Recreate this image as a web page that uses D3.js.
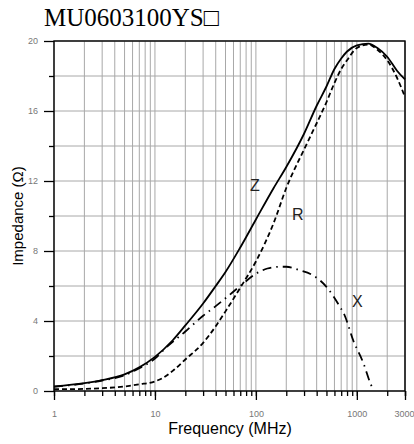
<!DOCTYPE html>
<html>
<head>
<meta charset="utf-8">
<script src="https://cdn.jsdelivr.net/npm/d3@7"></script>
<style>
  body { margin: 0; background: #fff; }
  svg { display: block; }
  .tick text { font-family: "Liberation Sans", Arial, sans-serif; font-size: 9px; fill: #777; }
</style>
</head>
<body>
<div id="chart-area"></div>
<script>

// frequencies (MHz) and impedance readings (ohm)
const freqZ = [1, 2, 3, 5, 7, 10, 15, 20, 30, 40, 50, 70, 100, 150, 200, 300, 400, 500, 600, 700, 800, 1000, 1300, 1600, 2000, 2500, 3000];
const valZ  = [0.26, 0.45, 0.62, 0.95, 1.35, 1.95, 2.9, 3.75, 5.0, 6.0, 6.8, 8.2, 9.8, 11.6, 12.8, 14.7, 16.3, 17.4, 18.4, 19.0, 19.4, 19.75, 19.85, 19.6, 19.1, 18.3, 17.8];

const freqR = [1, 2, 3, 5, 7, 10, 12, 15, 20, 30, 40, 50, 70, 100, 150, 200, 300, 400, 500, 600, 700, 800, 1000, 1300, 1600, 2000, 2500, 3000];
const valR  = [0.1, 0.12, 0.16, 0.26, 0.38, 0.55, 0.75, 1.15, 1.8, 2.75, 3.7, 4.55, 5.9, 7.4, 9.6, 11.6, 13.8, 15.3, 16.5, 17.6, 18.4, 18.9, 19.6, 19.8, 19.5, 18.9, 17.9, 16.8];

const freqX = [1, 2, 3, 5, 7, 10, 13, 20, 30, 40, 50, 70, 100, 130, 170, 200, 270, 370, 500, 650, 760, 920, 1160, 1360, 1420];
const valX  = [0.24, 0.43, 0.6, 0.9, 1.3, 1.85, 2.5, 3.4, 4.3, 4.85, 5.3, 6.0, 6.7, 7.0, 7.1, 7.1, 6.9, 6.6, 5.95, 5.0, 4.3, 2.9, 1.6, 0.45, 0.2];

const xLabels = [1, 10, 100, 1000, 3000];
const yLabels = [0, 4, 8, 12, 16, 20];
const yMinor = [2, 6, 10, 14, 18];

let margin = { left: 54, right: 9, top: 41, bottom: 53 };
let width = 414 - margin.left - margin.right;
let height = 444 - margin.top - margin.bottom;

const svg = d3.select('#chart-area').append('svg')
	.attr('width', 414)
	.attr('height', 444);

// title
svg.append('text')
	.attr('x', 44)
	.attr('y', 26)
	.attr('font-family', '"Liberation Serif", "Times New Roman", serif')
	.attr('font-size', '25px')
	.attr('fill', '#000')
	.text('MU0603100YS\u25A1');

let g = svg.append('g')
	.attr('transform', 'translate(' + margin.left + ', ' + margin.top + ')');

let x = d3.scaleLog()
	.domain([1, 3000])
	.range([0, width]);

let y = d3.scaleLinear()
	.domain([0, 20])
	.range([height, 0]);

// every 1..9 per decade for grid and minor ticks
let xMinor = [];
[1, 10, 100, 1000].forEach(dec => {
	for (let k = 1; k <= 9; k++) {
		if (dec * k <= 3000) xMinor.push(dec * k);
	}
});
xMinor.push(3000);

// grid
g.append('g')
	.selectAll('line.vgrid')
	.data(xMinor)
	.enter().append('line')
		.attr('x1', d => x(d)).attr('x2', d => x(d))
		.attr('y1', 0).attr('y2', height)
		.attr('stroke', '#a8a8a8')
		.attr('stroke-width', 1);

g.append('g')
	.selectAll('line.hgrid')
	.data(yLabels.concat(yMinor))
	.enter().append('line')
		.attr('x1', 0).attr('x2', width)
		.attr('y1', d => y(d)).attr('y2', d => y(d))
		.attr('stroke', '#a8a8a8')
		.attr('stroke-width', 1);

// axes
let yAxisCall = d3.axisLeft(y)
	.tickValues(yLabels)
	.tickSize(10)
	.tickPadding(6)
	.tickFormat(d => d);
g.append('g')
	.attr('class', 'y-axis')
	.call(yAxisCall)
	.call(a => a.select('.domain').remove());

g.append('g')
	.call(d3.axisLeft(y).tickValues(yMinor).tickSize(5).tickFormat(''))
	.call(a => a.select('.domain').remove());

let xAxisCall = d3.axisBottom(x)
	.tickValues(xLabels)
	.tickSize(9)
	.tickPadding(11)
	.tickFormat(d => d);
g.append('g')
	.attr('class', 'x-axis')
	.attr('transform', 'translate(0, ' + height + ')')
	.call(xAxisCall)
	.call(a => a.select('.domain').remove())
	// last label sits against the right edge
	.selectAll('.tick text')
		.filter(d => d === 3000)
		.attr('text-anchor', 'end')
		.attr('dx', 9);

g.append('g')
	.attr('transform', 'translate(0, ' + height + ')')
	.call(d3.axisBottom(x).tickValues(xMinor).tickSize(5).tickFormat(''))
	.call(a => a.select('.domain').remove());

g.selectAll('.tick line')
	.attr('stroke', '#000')
	.attr('stroke-width', 1.3);

// frame
g.append('rect')
	.attr('x', 0).attr('y', 0)
	.attr('width', width).attr('height', height)
	.attr('fill', 'none')
	.attr('stroke', '#000')
	.attr('stroke-width', 1.4);

// curves
let line = d3.line()
	.x(d => x(d[0]))
	.y(d => y(d[1]))
	.curve(d3.curveMonotoneX);

g.append('path')
	.datum(freqX.map((f, i) => [f, valX[i]]))
	.attr('d', line)
	.attr('fill', 'none')
	.attr('stroke', '#000')
	.attr('stroke-width', 1.8)
	.attr('stroke-dasharray', '9,5,1.5,5');

g.append('path')
	.datum(freqR.map((f, i) => [f, valR[i]]))
	.attr('d', line)
	.attr('fill', 'none')
	.attr('stroke', '#000')
	.attr('stroke-width', 1.8)
	.attr('stroke-dasharray', '5,3');

g.append('path')
	.datum(freqZ.map((f, i) => [f, valZ[i]]))
	.attr('d', line)
	.attr('fill', 'none')
	.attr('stroke', '#000')
	.attr('stroke-width', 1.8);

// curve labels
const curveLabels = [
	{ t: 'Z', f: 98, v: 11.45 },
	{ t: 'R', f: 260, v: 9.8 },
	{ t: 'X', f: 1010, v: 4.8 }
];
g.selectAll('text.curve-label')
	.data(curveLabels)
	.enter().append('text')
		.attr('class', 'curve-label')
		.attr('x', d => x(d.f))
		.attr('y', d => y(d.v))
		.attr('text-anchor', 'middle')
		.attr('font-family', '"Liberation Sans", Arial, sans-serif')
		.attr('font-size', '16px')
		.attr('fill', '#222')
		.text(d => d.t);

// x label
svg.append('text')
	.attr('x', 230)
	.attr('y', 434)
	.attr('font-family', '"Liberation Sans", Arial, sans-serif')
	.attr('font-size', '16px')
	.attr('text-anchor', 'middle')
	.text('Frequency (MHz)');

// y label
svg.append('text')
	.attr('x', -216)
	.attr('y', 23)
	.attr('font-family', '"Liberation Sans", Arial, sans-serif')
	.attr('font-size', '15px')
	.attr('text-anchor', 'middle')
	.attr('transform', 'rotate(-90)')
	.text('Impedance (\u03A9)');

</script>
</body>
</html>
